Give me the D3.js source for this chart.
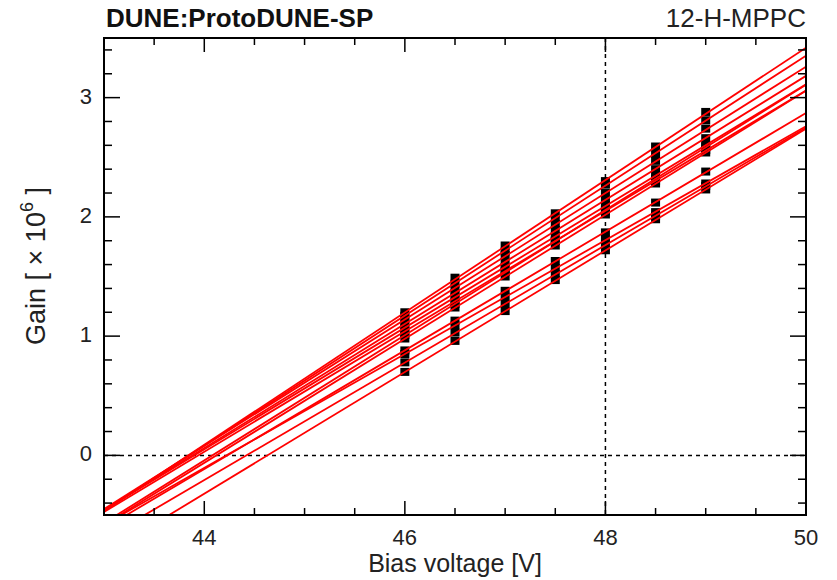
<!DOCTYPE html>
<html>
<head>
<meta charset="utf-8">
<script src="https://cdn.jsdelivr.net/npm/d3@7"></script>
<style>
  html, body { margin: 0; padding: 0; background: #fff; }
  svg { display: block; font-family: "Liberation Sans", Arial, Helvetica, sans-serif; }
</style>
</head>
<body>
<div id="chart"></div>
<script>
// gain vs bias voltage, 12 MPPC channels, with linear fits

// data
const voltages = [46, 46.5, 47, 47.5, 48, 48.5, 49];
const channels = ["ch1", "ch2", "ch3", "ch4", "ch5", "ch6", "ch7", "ch8", "ch9", "ch10", "ch11", "ch12"];
// measured gain [x1e6] per channel, one value per voltage
const gainCh1  = [1.20, 1.49, 1.76, 2.03, 2.30, 2.59, 2.88];
const gainCh2  = [1.17, 1.44, 1.71, 1.99, 2.27, 2.53, 2.81];
const gainCh3  = [1.14, 1.40, 1.68, 1.94, 2.20, 2.47, 2.74];
const gainCh4  = [1.10, 1.36, 1.62, 1.89, 2.14, 2.40, 2.66];
const gainCh5  = [1.07, 1.33, 1.58, 1.84, 2.10, 2.35, 2.60];
const gainCh6  = [1.04, 1.29, 1.55, 1.80, 2.05, 2.30, 2.56];
const gainCh7  = [1.01, 1.27, 1.54, 1.80, 2.06, 2.32, 2.59];
const gainCh8  = [0.98, 1.24, 1.50, 1.76, 2.02, 2.28, 2.54];
const gainCh9  = [0.88, 1.13, 1.38, 1.63, 1.87, 2.12, 2.38];
const gainCh10 = [0.85, 1.09, 1.33, 1.57, 1.81, 2.04, 2.28];
const gainCh11 = [0.78, 1.03, 1.27, 1.52, 1.77, 2.01, 2.26];
const gainCh12 = [0.70, 0.96, 1.21, 1.47, 1.72, 1.98, 2.23];
// linear fit per channel: slope [1e6/V] and breakdown voltage [V]
const fitSlope = [0.555, 0.545, 0.530, 0.520, 0.510, 0.505, 0.525, 0.520, 0.4975, 0.4775, 0.4925, 0.510];
const fitVbd   = [43.84, 43.85, 43.85, 43.88, 43.90, 43.94, 44.08, 44.12, 44.23, 44.22, 44.42, 44.63];
// axis ticks
const xTicks = [44, 46, 48, 50];
const yTicks = [0, 1, 2, 3];
const refVoltage = 48;

const gains = [gainCh1, gainCh2, gainCh3, gainCh4, gainCh5, gainCh6,
               gainCh7, gainCh8, gainCh9, gainCh10, gainCh11, gainCh12];

// layout
const W = 837, H = 580;
const margin = { top: 38, right: 31, bottom: 65, left: 104 };
const width = W - margin.left - margin.right;
const height = H - margin.top - margin.bottom;

const svg = d3.select("#chart").append("svg").attr("width", W).attr("height", H);
svg.append("rect").attr("width", W).attr("height", H).attr("fill", "#fff");

const g = svg.append("g").attr("transform", `translate(${margin.left},${margin.top})`);

const x = d3.scaleLinear().domain([43, 50]).range([0, width]);
const y = d3.scaleLinear().domain([-0.5, 3.5]).range([height, 0]);

g.append("clipPath").attr("id", "clip")
  .append("rect").attr("width", width).attr("height", height);

const plot = g.append("g").attr("clip-path", "url(#clip)");

// dashed reference lines
plot.append("line")
  .attr("x1", 0).attr("x2", width).attr("y1", y(0)).attr("y2", y(0))
  .attr("stroke", "#000").attr("stroke-width", 1.5).attr("stroke-dasharray", "4 4");
plot.append("line")
  .attr("x1", x(refVoltage)).attr("x2", x(refVoltage)).attr("y1", 0).attr("y2", height)
  .attr("stroke", "#000").attr("stroke-width", 1.5).attr("stroke-dasharray", "4 4");

// markers
const mw = 9, mh = 8;
gains.forEach(vals => {
  plot.selectAll(null)
    .data(vals.map((v, i) => ({ V: voltages[i], G: v })))
    .enter()
    .append("rect")
    .attr("x", d => x(d.V) - mw / 2)
    .attr("y", d => y(d.G) - mh / 2)
    .attr("width", mw).attr("height", mh)
    .attr("fill", "#000");
});

// fit lines across the full range
const fitLine = d3.line().x(d => x(d[0])).y(d => y(d[1]));
channels.forEach((c, i) => {
  const pts = x.domain().map(v => [v, fitSlope[i] * (v - fitVbd[i])]);
  plot.append("path")
    .attr("d", fitLine(pts))
    .attr("fill", "none")
    .attr("stroke", "#ff0000")
    .attr("stroke-width", 1.8);
});

// ticks on all four sides, pointing inward
const majorLen = 14, minorLen = 7;
const xMinor = d3.range(43, 50.001, 0.5).filter(v => !xTicks.includes(v));
const yMinor = d3.range(-0.4, 3.5, 0.2).map(v => +v.toFixed(1)).filter(v => !yTicks.includes(v));

const tickG = g.append("g").attr("stroke", "#000").attr("stroke-width", 1.5);
[[xTicks, majorLen], [xMinor, minorLen]].forEach(([vals, len]) => {
  vals.forEach(v => {
    tickG.append("line").attr("x1", x(v)).attr("x2", x(v)).attr("y1", height).attr("y2", height - len);
    tickG.append("line").attr("x1", x(v)).attr("x2", x(v)).attr("y1", 0).attr("y2", len);
  });
});
[[yTicks, majorLen + 2], [yMinor, minorLen + 1]].forEach(([vals, len]) => {
  vals.forEach(v => {
    tickG.append("line").attr("x1", 0).attr("x2", len).attr("y1", y(v)).attr("y2", y(v));
    tickG.append("line").attr("x1", width).attr("x2", width - len).attr("y1", y(v)).attr("y2", y(v));
  });
});

// frame
g.append("rect")
  .attr("width", width).attr("height", height)
  .attr("fill", "none").attr("stroke", "#000").attr("stroke-width", 2);

// tick labels
g.selectAll(".xlab").data(xTicks).enter().append("text")
  .attr("x", d => x(d)).attr("y", height + 30)
  .attr("text-anchor", "middle").attr("font-size", 22).attr("fill", "#222")
  .text(d => d);
g.selectAll(".ylab").data(yTicks).enter().append("text")
  .attr("x", -12).attr("y", d => y(d) + 6)
  .attr("text-anchor", "end").attr("font-size", 22).attr("fill", "#222")
  .text(d => d);

// axis titles
svg.append("text")
  .attr("x", margin.left + width / 2).attr("y", H - 8)
  .attr("text-anchor", "middle").attr("font-size", 25).attr("fill", "#222")
  .text("Bias voltage [V]");

const yt = svg.append("text")
  .attr("transform", `translate(45,266) rotate(-90)`)
  .attr("text-anchor", "middle").attr("font-size", 27).attr("fill", "#222");
yt.append("tspan").text("Gain [ \u00d7 10");
yt.append("tspan").attr("font-size", 18).attr("dy", -12).text("6");
yt.append("tspan").attr("dy", 12).text(" ]");

// header texts
svg.append("text")
  .attr("x", margin.left + 2).attr("y", 27)
  .attr("font-size", 26).attr("font-weight", "bold").attr("fill", "#111")
  .text("DUNE:ProtoDUNE-SP");
svg.append("text")
  .attr("x", margin.left + width).attr("y", 27)
  .attr("text-anchor", "end").attr("font-size", 26).attr("fill", "#222")
  .text("12-H-MPPC");
</script>
</body>
</html>
